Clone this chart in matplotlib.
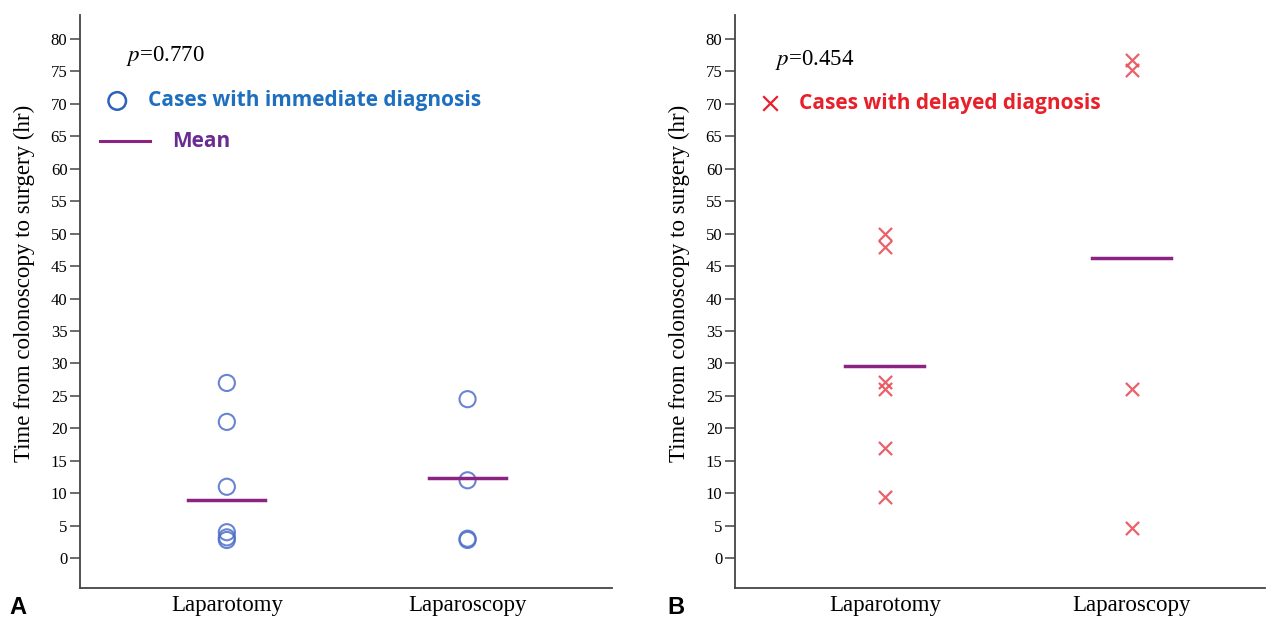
import numpy as np
import matplotlib
matplotlib.use('Agg')
from matplotlib import pyplot as plt

groups = ['Laparotomy', 'Laparoscopy']
# panel A: immediate diagnosis
immediate_lapt = [27, 21, 11, 4, 3.2, 2.8]
immediate_lapc = [24.5, 12, 3, 2.8]
immediate_mean = [8.9, 12.3]
# panel B: delayed diagnosis
delayed_lapt = [50, 48, 27.2, 26, 17, 9.4]
delayed_lapc = [76.7, 75.3, 26, 4.6]
delayed_mean = [29.6, 46.2]
p_values = ['0.770', '0.454']
yticks = np.arange(0, 81, 5)

plt.rcParams['font.family'] = ['Liberation Serif', 'DejaVu Serif']
plt.rcParams['mathtext.fontset'] = 'stix'

fig = plt.figure(figsize=(12.69, 6.19), dpi=100)
W, H = 1269.0, 619.0
axA = fig.add_axes([80 / W, 1 - 588 / H, 532 / W, (588 - 15) / H])
axB = fig.add_axes([735 / W, 1 - 588 / H, 530 / W, (588 - 15) / H])

circ_col = '#4f6fc8'
x_col = '#e9505a'
mean_col = '#8b2382'


def style_axis(ax, xlim):
    ax.set_ylim(-4.6, 83.7)
    ax.set_xlim(*xlim)
    ax.spines['top'].set_visible(False)
    ax.spines['right'].set_visible(False)
    for s in ['left', 'bottom']:
        ax.spines[s].set_color('#444444')
        ax.spines[s].set_linewidth(1.3)
    ax.set_yticks(yticks)
    ax.set_yticklabels([str(t) for t in yticks], fontsize=12)
    ax.tick_params(axis='y', length=7, width=1.1, color='#444444', pad=2)
    ax.set_xticks([0, 1])
    ax.set_xticklabels(groups, fontsize=16.5)
    ax.tick_params(axis='x', length=0, pad=5)
    ax.set_ylabel('Time from colonoscopy to surgery (hr)', fontsize=16.5)
    ax.yaxis.set_label_coords(-0.085, 0.531)


style_axis(axA, (-0.61, 1.6))
axA.scatter([0] * len(immediate_lapt), immediate_lapt, s=135, facecolors='none',
            edgecolors=circ_col, linewidths=1.5, alpha=0.85, zorder=3)
axA.scatter([1] * len(immediate_lapc), immediate_lapc, s=135, facecolors='none',
            edgecolors=circ_col, linewidths=1.5, alpha=0.85, zorder=3)
for i, m in enumerate(immediate_mean):
    axA.plot([i - 0.16, i + 0.16], [m, m], color=mean_col, lw=2.5, zorder=4)

axA.text(0.087, 0.928, '$p$=' + p_values[0], transform=axA.transAxes, fontsize=16.5,
         va='center', ha='left')
# legend, drawn by hand
axA.scatter([0.07], [0.85], s=160, facecolors='none', edgecolors='#2c63b8', linewidths=1.8,
            transform=axA.transAxes, clip_on=False)
axA.text(0.128, 0.85, 'Cases with immediate diagnosis', transform=axA.transAxes,
         fontsize=15, fontweight='bold', color='#1f6fbf', family=['Open Sans', 'DejaVu Sans'],
         va='center', ha='left')
axA.plot([0.038, 0.132], [0.78, 0.78], color=mean_col, lw=2.2, transform=axA.transAxes)
axA.text(0.173, 0.78, 'Mean', transform=axA.transAxes, fontsize=15, fontweight='bold',
         color='#6a2c91', family=['Open Sans', 'DejaVu Sans'], va='center', ha='left')

style_axis(axB, (-0.607, 1.539))
axB.scatter([0] * len(delayed_lapt), delayed_lapt, s=90, marker='x', color=x_col,
            linewidths=1.6, alpha=0.9, zorder=3)
axB.scatter([1] * len(delayed_lapc), delayed_lapc, s=90, marker='x', color=x_col,
            linewidths=1.6, alpha=0.9, zorder=3)
for i, m in enumerate(delayed_mean):
    axB.plot([i - 0.16, i + 0.16], [m, m], color=mean_col, lw=2.5, zorder=4)

axB.text(0.075, 0.921, '$p$=' + p_values[1], transform=axB.transAxes, fontsize=16.5,
         va='center', ha='left')
axB.scatter([0.066], [0.846], s=110, marker='x', color='#e8202a', linewidths=1.6,
            transform=axB.transAxes, clip_on=False)
axB.text(0.12, 0.846, 'Cases with delayed diagnosis', transform=axB.transAxes,
         fontsize=15, fontweight='bold', color='#e8202a', family=['Open Sans', 'DejaVu Sans'],
         va='center', ha='left')

fig.text(18 / W, 1 - 607 / H, 'A', fontsize=17, fontweight='bold', family=['Liberation Sans', 'DejaVu Sans'],
         va='center', ha='center')
fig.text(676 / W, 1 - 607 / H, 'B', fontsize=17, fontweight='bold', family=['Liberation Sans', 'DejaVu Sans'],
         va='center', ha='center')

fig.savefig('out.png', dpi=100)
